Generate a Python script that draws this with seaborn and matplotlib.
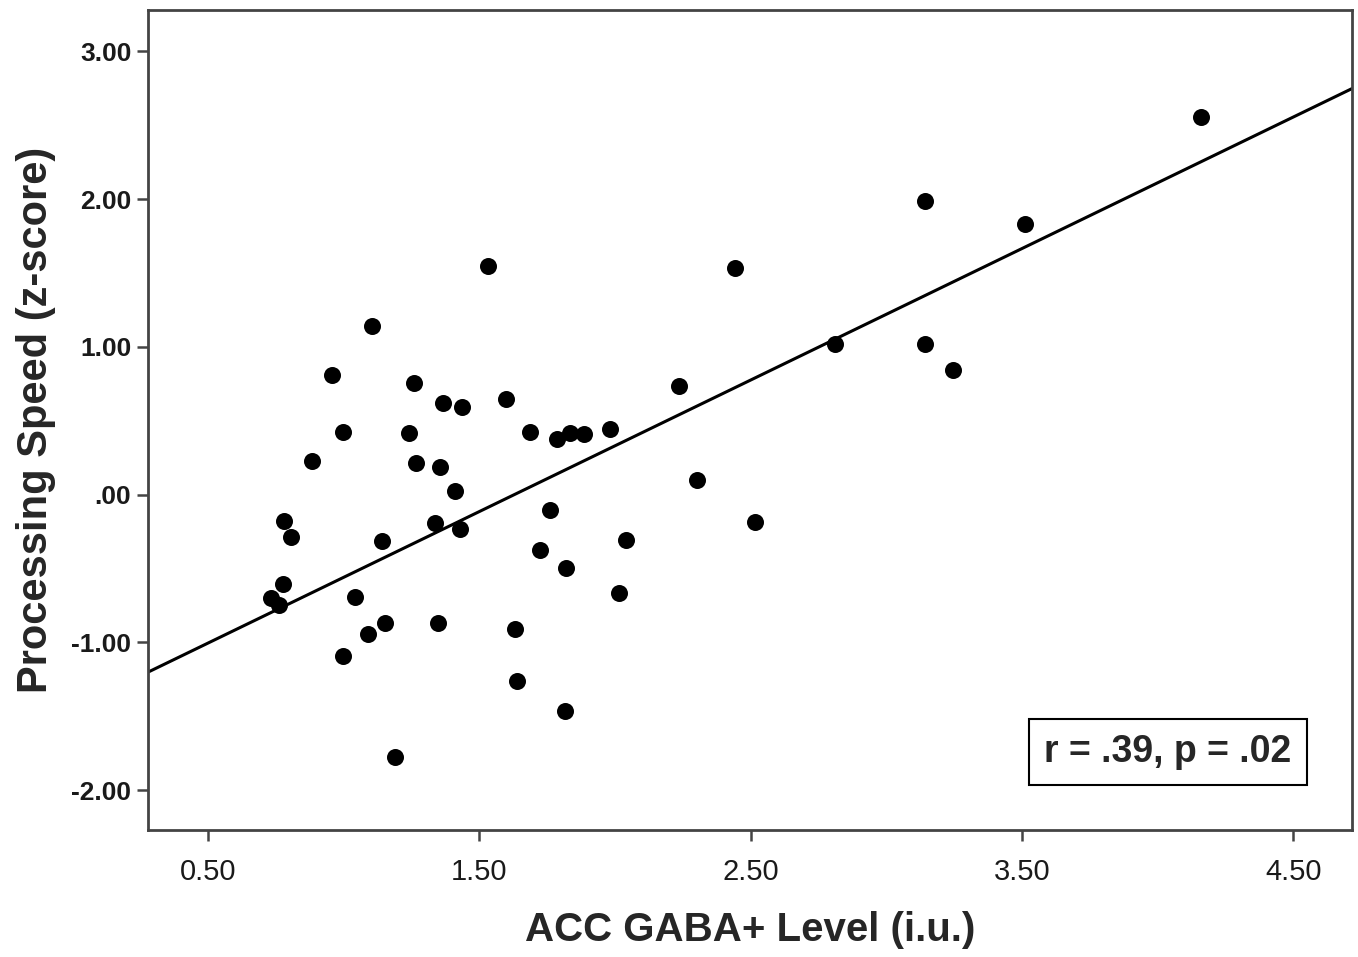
import pandas as pd
import matplotlib.pyplot as plt
import seaborn as sns

# GABA+ level vs processing speed
gaba = [0.732, 0.762, 0.776, 0.780, 0.806, 0.883, 0.957, 0.998, 0.998, 1.042,
        1.090, 1.105, 1.141, 1.153, 1.189, 1.241, 1.259, 1.267, 1.337, 1.348,
        1.355, 1.366, 1.411, 1.429, 1.436, 1.532, 1.599, 1.632, 1.639, 1.687,
        1.724, 1.761, 1.787, 1.820, 1.816, 1.835, 1.886, 1.982, 2.015, 2.041,
        2.236, 2.303, 2.443, 2.517, 2.812, 3.143, 3.143, 3.247, 3.512, 4.161]
speed = [-0.700, -0.747, -0.605, -0.179, -0.287, 0.226, 0.807, 0.422, -1.090, -0.693,
         -0.943, 1.139, -0.314, -0.868, -1.774, 0.416, 0.753, 0.213, -0.193, -0.868,
         0.186, 0.618, 0.024, -0.233, 0.591, 1.544, 0.645, -0.909, -1.260, 0.422,
         -0.375, -0.105, 0.375, -0.497, -1.463, 0.416, 0.409, 0.443, -0.666, -0.307,
         0.733, 0.098, 1.537, -0.186, 1.017, 1.990, 1.017, 0.841, 1.834, 2.557]

# fit line as drawn in the figure (intercept, slope)
fit_intercept = -1.45
fit_slope = 0.89

xticks = [0.5, 1.5, 2.5, 3.5, 4.5]
xtick_labels = ["0.50", "1.50", "2.50", "3.50", "4.50"]
yticks = [-2, -1, 0, 1, 2, 3]
ytick_labels = ["-2.00", "-1.00", ".00", "1.00", "2.00", "3.00"]

df = pd.DataFrame({"gaba": gaba, "speed": speed})

sns.set_style("white")
plt.rcParams["font.family"] = ["Liberation Sans", "DejaVu Sans"]

fig = plt.figure(figsize=(13.58, 9.57), dpi=100)
ax = fig.add_axes([148 / 1358, 1 - 830 / 957, 1204 / 1358, 820 / 957])

sns.regplot(data=df, x="gaba", y="speed", ax=ax, fit_reg=False,
            scatter_kws={"s": 150, "color": "black", "linewidths": 0, "alpha": 1})
ax.axline((0, fit_intercept), slope=fit_slope, color="black", lw=2.2)

ax.set_xlim(0.279, 4.717)
ax.set_ylim(-2.27, 3.28)

ax.set_xticks(xticks)
ax.set_xticklabels(xtick_labels, fontsize=21, color="#1a1a1a")
ax.set_yticks(yticks)
ax.set_yticklabels(ytick_labels, fontsize=19, fontweight="bold", color="#1a1a1a")
ax.tick_params(axis="both", direction="out", length=8, width=1.8, color="#444444",
               left=True, bottom=True)
ax.tick_params(axis="y", pad=4)
ax.tick_params(axis="x", pad=12)

for sp in ax.spines.values():
    sp.set_color("#444444")
    sp.set_linewidth(2)

ax.set_xlabel("ACC GABA+ Level (i.u.)", fontsize=29, fontweight="bold", labelpad=18)
ax.set_ylabel("Processing Speed (z-score)", fontsize=30, fontweight="bold", labelpad=11)

ax.text((1168 - 148) / 1204, (830 - 752) / 820, "r = .39, p = .02", transform=ax.transAxes,
        fontsize=27, fontweight="bold", ha="center", va="center",
        bbox=dict(boxstyle="square,pad=0.4", facecolor="white", edgecolor="black", lw=1.5))

fig.savefig("out.png", dpi=100)
